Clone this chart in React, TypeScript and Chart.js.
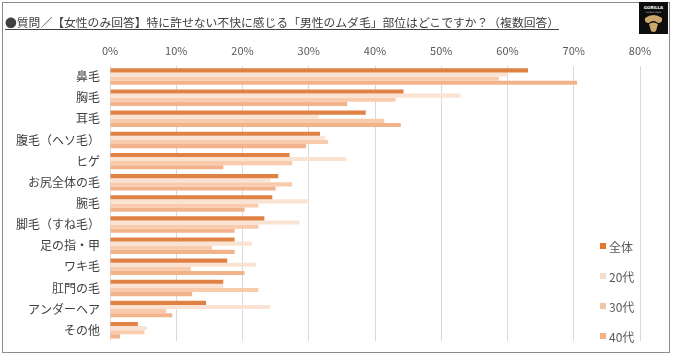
import React, { useEffect, useRef } from "react";
import { Chart, registerables } from "chart.js";

Chart.register(...registerables);

const categories = [
  "鼻毛",
  "胸毛",
  "耳毛",
  "腹毛（ヘソ毛）",
  "ヒゲ",
  "お尻全体の毛",
  "腕毛",
  "脚毛（すね毛）",
  "足の指・甲",
  "ワキ毛",
  "肛門の毛",
  "アンダーヘア",
  "その他",
];

const seriesNames = ["全体", "20代", "30代", "40代"];
const valuesAll = [63.1, 44.3, 38.6, 31.7, 27.1, 25.4, 24.5, 23.3, 18.8, 17.7, 17.1, 14.5, 4.2];
const values20 = [60.1, 52.9, 31.5, 32.5, 35.7, 24.2, 30.0, 28.6, 21.4, 22.0, 17.1, 24.2, 5.6];
const values30 = [58.7, 43.1, 41.4, 32.9, 27.5, 27.5, 22.4, 22.4, 15.4, 12.2, 22.4, 8.5, 5.2];
const values40 = [70.5, 35.8, 43.9, 29.6, 17.1, 25.0, 20.3, 18.8, 18.8, 20.3, 12.4, 9.4, 1.5];
const seriesColors = ["#DF8244", "#FBE3D3", "#F8CBAD", "#F2B38A"];
const legendColors = ["#E8772E", "#F3DDCF", "#F2C5A8", "#EFB08A"];

const xMin = 0;
const xMax = 80;
const xStep = 10;

const titleText = "●質問／【女性のみ回答】特に許せない不快に感じる「男性のムダ毛」部位はどこですか？（複数回答）";
const FONT = "'Noto Sans CJK JP', 'Noto Sans', sans-serif";

export default function App() {
  const canvasRef = useRef<HTMLCanvasElement | null>(null);

  useEffect(() => {
    const canvas = canvasRef.current;
    if (!canvas) return;
    const allSeries = [valuesAll, values20, values30, values40];
    const chart = new Chart(canvas, {
      type: "bar",
      data: {
        labels: categories,
        datasets: allSeries.map((vals, i) => ({
          label: seriesNames[i],
          data: vals,
          backgroundColor: seriesColors[i],
          borderWidth: 0,
          barPercentage: 1.0,
          categoryPercentage: 0.78,
        })),
      },
      options: {
        indexAxis: "y",
        responsive: false,
        animation: false,
        devicePixelRatio: 1,
        layout: { padding: { left: 0, right: 34, top: 36, bottom: 6 } },
        plugins: {
          legend: { display: false },
          tooltip: { enabled: false },
          title: { display: false },
        },
        scales: {
          x: {
            type: "linear",
            position: "top",
            min: xMin,
            max: xMax,
            ticks: {
              stepSize: xStep,
              padding: 9,
              color: "#595959",
              font: { family: FONT, size: 11 },
              callback: (v: any) => `${v}%`,
            },
            grid: { color: "#D9D9D9", drawTicks: false, lineWidth: 1 },
            border: { display: false },
            afterFit: (scale: any) => {
              scale.height = 30;
            },
          },
          y: {
            type: "category",
            ticks: {
              padding: 10,
              color: "#404040",
              font: { family: FONT, size: 12 },
              autoSkip: false,
            },
            grid: { display: false, drawTicks: false },
            border: { display: false },
            afterFit: (scale: any) => {
              scale.width = 110;
            },
          },
        },
      },
    });
    return () => chart.destroy();
  }, []);

  return (
    <div style={{ position: "fixed", left: 0, top: 0, width: 674, height: 358, background: "#fff", fontFamily: FONT }}>
      <div
        style={{
          position: "absolute",
          left: 2,
          top: 2,
          width: 668,
          height: 351,
          border: "1px solid #8C8C8C",
          boxSizing: "border-box",
        }}
      />
      <canvas ref={canvasRef} width={674} height={358} style={{ position: "absolute", left: 0, top: 0 }} />
      <div
        style={{
          position: "absolute",
          left: 5,
          top: 15,
          fontSize: 11.8,
          lineHeight: "14px",
          color: "#404040",
          whiteSpace: "nowrap",
          borderBottom: "1px solid #404040",
        }}
      >
        {titleText}
      </div>
      <svg style={{ position: "absolute", left: 639, top: 2 }} width={29} height={32} viewBox="0 0 29 32">
        <rect x={0} y={0} width={29} height={32} fill="#0d0d0d" />
        <text x={14.5} y={7} fontSize={4} fill="#fff" textAnchor="middle" fontFamily="DejaVu Sans" fontWeight="bold">GORILLA</text>
        <text x={14.5} y={11} fontSize={2.4} fill="#ccc" textAnchor="middle" fontFamily="DejaVu Sans">london mens</text>
        <path d="M6 16 Q14.5 10 23 16 Q24 21 19 21 Q14.5 17 10 21 Q5 21 6 16 Z" fill="#C9A86A" />
        <path d="M10 22 Q14.5 19 19 22 L17 29 Q14.5 31 12 29 Z" fill="#C9A86A" />
      </svg>
      {seriesNames.map((name, i) => (
        <div
          key={name}
          style={{
            position: "absolute",
            left: 600,
            top: 238 + i * 30,
            height: 16,
            display: "flex",
            alignItems: "center",
            fontSize: 12,
            color: "#595959",
          }}
        >
          <span style={{ display: "inline-block", width: 6, height: 6, background: legendColors[i], marginRight: 3 }} />
          <span>{name}</span>
        </div>
      ))}
    </div>
  );
}
